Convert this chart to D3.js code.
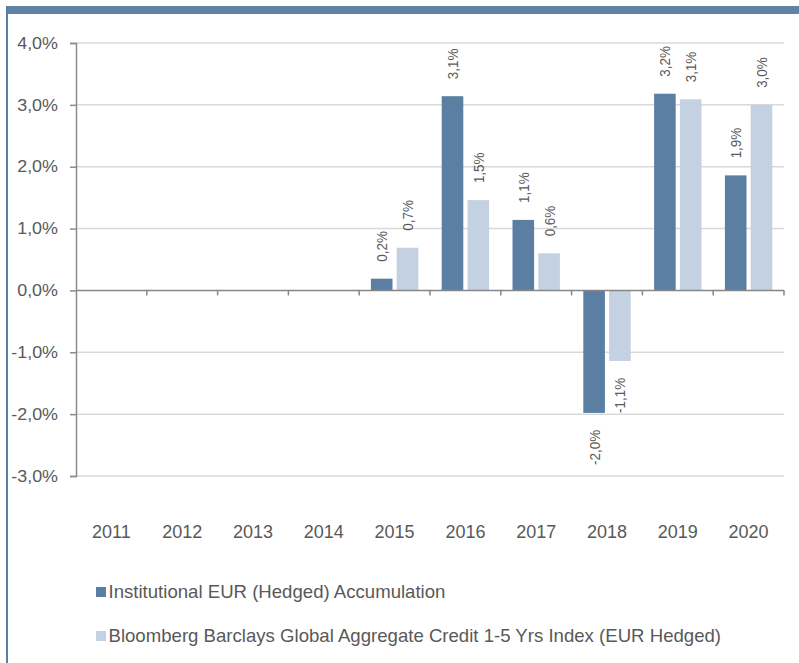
<!DOCTYPE html>
<html>
<head>
<meta charset="utf-8">
<script src="https://cdn.jsdelivr.net/npm/d3@7"></script>
<style>
  body { margin: 0; background: #fff; }
  text { font-family: Arial, "Liberation Sans", sans-serif; fill: #595959; }
</style>
</head>
<body>
<svg id="chart"></svg>
<script>
const years = ["2011", "2012", "2013", "2014", "2015", "2016", "2017", "2018", "2019", "2020"];
const seriesNames = [
    "Institutional EUR (Hedged) Accumulation",
    "Bloomberg Barclays Global Aggregate Credit 1-5 Yrs Index (EUR Hedged)"
];
const fundValues = [null, null, null, null, 0.19, 3.14, 1.14, -1.98, 3.18, 1.86];
const indexValues = [null, null, null, null, 0.69, 1.46, 0.60, -1.14, 3.09, 3.00];
const yTicks = [-3, -2, -1, 0, 1, 2, 3, 4];

const colors = ["#5b7fa3", "#c4d1e2"];
const width = 799, height = 663;

const svg = d3.select("#chart").attr("width", width).attr("height", height);

// comma decimal, plain hyphen for negatives
const locale = d3.formatLocale({ decimal: ",", thousands: ".", grouping: [3], currency: ["", "€"], minus: "-" });
const fmt = locale.format(".1f");

// frame: top band and left rule
svg.append("rect").attr("x", 6).attr("y", 6).attr("width", width - 6).attr("height", 8).attr("fill", "#5f83a7");
svg.append("rect").attr("x", 6).attr("y", 6).attr("width", 2).attr("height", height - 6).attr("fill", "#5b7fa3");

const x = d3.scaleBand().domain(years).range([76, 784]);
const xInner = d3.scaleBand().domain([0, 1]).range([11.7, x.bandwidth() - 11.7]).paddingInner(0.163);
const y = d3.scaleLinear().domain([-3, 4]).range([476, 43]);

// gridlines
svg.append("g").selectAll("line")
    .data(yTicks.filter(d => d !== 0))
    .join("line")
    .attr("x1", 76).attr("x2", 784)
    .attr("y1", d => y(d)).attr("y2", d => y(d))
    .attr("stroke", "#d9d9d9").attr("stroke-width", 1.5);

// y axis
const yAxis = svg.append("g").attr("transform", "translate(76,0)")
    .call(d3.axisLeft(y).tickValues(yTicks).tickSize(6).tickPadding(0).tickFormat(d => ""));
yAxis.select(".domain").attr("stroke", "#8c8c8c").attr("stroke-width", 1.5);
yAxis.selectAll(".tick line").attr("stroke", "#8c8c8c").attr("stroke-width", 1.5);

svg.append("g").selectAll("text")
    .data(yTicks)
    .join("text")
    .attr("transform", d => `translate(58,${y(d)}) scale(1.12,1)`)
    .attr("dy", "0.36em")
    .attr("text-anchor", "end")
    .attr("font-size", "16px")
    .text(d => fmt(d) + "%");

// bars
const series = [fundValues, indexValues];
series.forEach((vals, si) => {
    const g = svg.append("g");
    const data = years.map((yr, i) => ({ year: yr, value: vals[i] })).filter(d => d.value !== null);
    g.selectAll("rect")
        .data(data)
        .join("rect")
        .attr("x", d => x(d.year) + xInner(si))
        .attr("width", xInner.bandwidth())
        .attr("y", d => y(Math.max(0, d.value)))
        .attr("height", d => Math.abs(y(d.value) - y(0)))
        .attr("fill", colors[si]);

    g.selectAll("text")
        .data(data)
        .join("text")
        .attr("transform", d => {
            const cx = x(d.year) + xInner(si) + xInner.bandwidth() / 2;
            const ty = d.value >= 0 ? y(d.value) - 17 : y(d.value) + 17;
            return `translate(${cx},${ty}) scale(1.15,1) rotate(-90)`;
        })
        .attr("dy", "0.36em")
        .attr("text-anchor", d => d.value >= 0 ? "start" : "end")
        .attr("font-size", "13.4px")
        .text(d => fmt(d.value) + "%");
});

// zero line with category ticks
svg.append("line")
    .attr("x1", 76).attr("x2", 784)
    .attr("y1", y(0)).attr("y2", y(0))
    .attr("stroke", "#868686").attr("stroke-width", 1.5);
svg.append("g").selectAll("line")
    .data(years)
    .join("line")
    .attr("x1", (d, i) => x(d) + x.step())
    .attr("x2", (d, i) => x(d) + x.step())
    .attr("y1", y(0)).attr("y2", y(0) + 5)
    .attr("stroke", "#868686").attr("stroke-width", 1.5);

// x labels
svg.append("g").selectAll("text")
    .data(years)
    .join("text")
    .attr("x", d => x(d) + x.bandwidth() / 2)
    .attr("y", 538)
    .attr("text-anchor", "middle")
    .attr("font-size", "18px")
    .text(d => d);

// legend
const legend = svg.append("g").selectAll("g")
    .data(seriesNames)
    .join("g")
    .attr("transform", (d, i) => `translate(96,${587 + i * 44})`);
legend.append("rect")
    .attr("width", 10).attr("height", 10)
    .attr("fill", (d, i) => colors[i]);
legend.append("text")
    .attr("x", 12.5).attr("y", 10.5)
    .attr("font-size", "18.6px")
    .text(d => d);
</script>
</body>
</html>
